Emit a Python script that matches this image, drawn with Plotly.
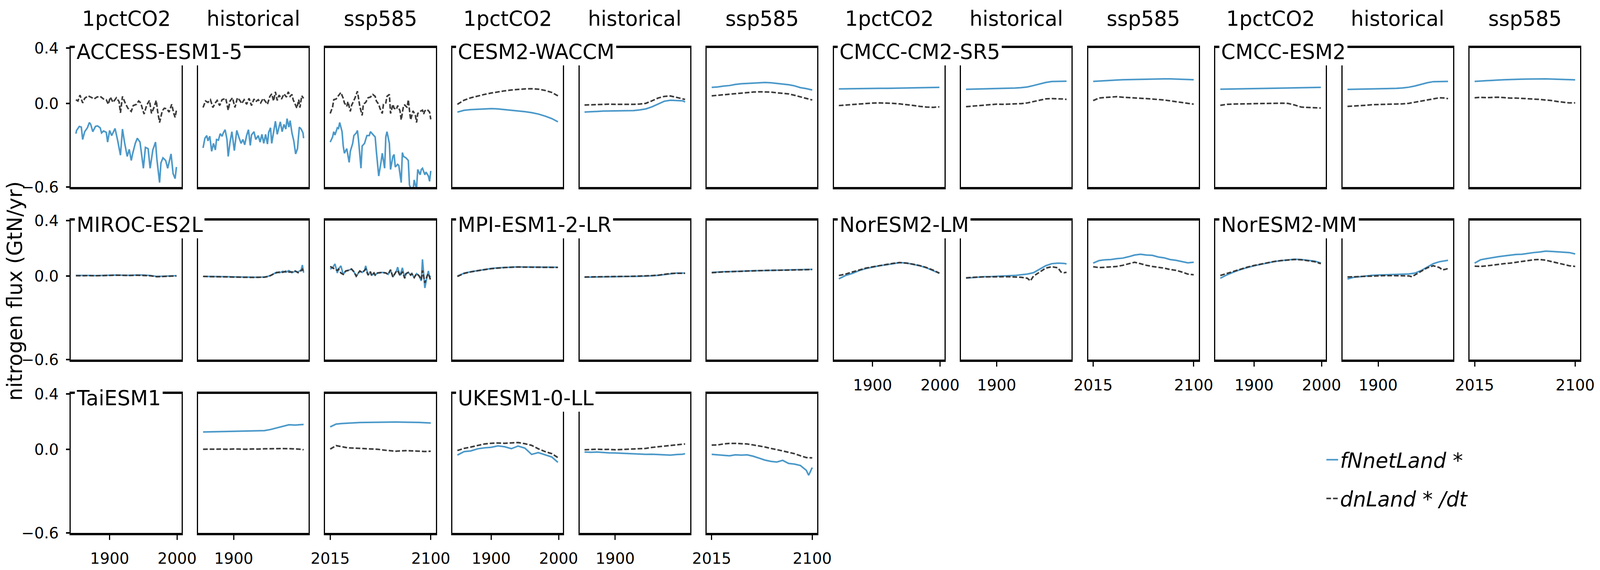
import plotly.graph_objects as go

# ---------------- data (GtN/yr) ----------------
MODELS = ["ACCESS-ESM1-5", "CESM2-WACCM", "CMCC-CM2-SR5", "CMCC-ESM2",
          "MIROC-ES2L", "MPI-ESM1-2-LR", "NorESM2-LM", "NorESM2-MM",
          "TaiESM1", "UKESM1-0-LL"]
EXPERIMENTS = ["1pctCO2", "historical", "ssp585"]
SERIES_NAMES = ["fNnetLand *", "dnLand * /dt"]

YR_1PCT = [1850, 1860, 1870, 1880, 1890, 1900, 1910, 1920, 1930, 1940, 1950, 1960, 1970, 1980, 1990, 1999]
YR_HIST = [1850, 1860, 1870, 1880, 1890, 1900, 1910, 1920, 1930, 1940, 1950, 1960, 1970, 1980, 1990, 2000, 2010, 2014]
YR_SSP = [2015, 2020, 2025, 2030, 2035, 2040, 2045, 2050, 2055, 2060, 2065, 2070, 2075, 2080, 2085, 2090, 2095, 2100]

# ACCESS-ESM1-5 (noisy, read at finer spacing)
ACCESS_1pct_f_yr = [1850, 1851, 1855, 1858, 1860, 1863, 1867, 1870, 1872, 1875, 1879, 1882, 1886, 1888, 1891, 1895, 1897, 1900, 1903, 1908, 1912, 1916, 1919, 1922, 1926, 1929, 1932, 1934, 1938, 1941, 1945, 1950, 1953, 1957, 1960, 1964, 1968, 1970, 1974, 1976, 1979, 1983, 1986, 1991, 1994, 1997, 1999]
ACCESS_1pct_f = [-0.216, -0.193, -0.164, -0.169, -0.258, -0.202, -0.174, -0.136, -0.150, -0.202, -0.164, -0.160, -0.174, -0.211, -0.197, -0.207, -0.277, -0.193, -0.230, -0.179, -0.268, -0.371, -0.183, -0.277, -0.380, -0.329, -0.409, -0.362, -0.286, -0.249, -0.277, -0.465, -0.315, -0.324, -0.465, -0.333, -0.277, -0.399, -0.568, -0.427, -0.390, -0.409, -0.465, -0.362, -0.503, -0.540, -0.456]
ACCESS_1pct_d_yr = [1850, 1853, 1856, 1860, 1863, 1868, 1874, 1877, 1881, 1886, 1891, 1895, 1898, 1901, 1905, 1910, 1914, 1916, 1919, 1923, 1927, 1932, 1935, 1940, 1943, 1946, 1951, 1955, 1959, 1962, 1966, 1969, 1971, 1974, 1978, 1981, 1985, 1988, 1992, 1995, 1997, 1999]
ACCESS_1pct_d = [0.028, 0.019, 0.061, 0.005, 0.038, 0.056, 0.042, 0.033, 0.047, 0.052, 0.033, 0.028, -0.005, 0.047, 0.009, 0.042, 0.014, -0.066, 0.052, 0.005, -0.033, -0.056, -0.014, -0.005, 0.019, 0.005, -0.075, -0.010, 0.023, -0.070, -0.024, 0.023, -0.052, -0.136, -0.052, -0.033, -0.038, -0.061, -0.005, -0.070, -0.099, -0.047]
ACCESS_hist_f_yr = [1850, 1853, 1856, 1858, 1861, 1864, 1867, 1870, 1872, 1875, 1878, 1881, 1883, 1886, 1889, 1891, 1894, 1897, 1901, 1905, 1909, 1912, 1915, 1918, 1921, 1924, 1927, 1929, 1933, 1936, 1940, 1943, 1946, 1949, 1952, 1955, 1957, 1960, 1962, 1965, 1968, 1971, 1973, 1976, 1979, 1982, 1985, 1987, 1990, 1992, 1995, 1998, 2001, 2004, 2007, 2010, 2013, 2014]
ACCESS_hist_f = [-0.319, -0.249, -0.230, -0.268, -0.235, -0.343, -0.286, -0.333, -0.258, -0.263, -0.216, -0.235, -0.211, -0.188, -0.258, -0.380, -0.277, -0.202, -0.338, -0.193, -0.249, -0.286, -0.258, -0.296, -0.230, -0.188, -0.301, -0.226, -0.202, -0.258, -0.230, -0.277, -0.221, -0.286, -0.221, -0.291, -0.207, -0.174, -0.286, -0.211, -0.127, -0.221, -0.183, -0.131, -0.202, -0.150, -0.183, -0.108, -0.169, -0.122, -0.211, -0.268, -0.362, -0.324, -0.169, -0.183, -0.211, -0.249]
ACCESS_hist_d_yr = [1850, 1854, 1858, 1862, 1866, 1870, 1873, 1877, 1881, 1887, 1891, 1894, 1898, 1902, 1906, 1910, 1913, 1917, 1921, 1925, 1929, 1933, 1936, 1940, 1944, 1948, 1952, 1955, 1959, 1962, 1965, 1968, 1971, 1974, 1978, 1982, 1986, 1989, 1992, 1995, 1997, 2000, 2003, 2006, 2008, 2011, 2014]
ACCESS_hist_d = [-0.028, 0.019, 0.009, 0.028, -0.028, 0.005, 0.023, -0.014, 0.028, 0.038, -0.047, 0.019, 0.042, -0.028, 0.042, 0.023, 0.000, 0.028, -0.005, 0.038, -0.014, 0.033, 0.014, 0.028, 0.005, 0.038, 0.014, -0.005, 0.052, 0.070, 0.019, 0.085, 0.023, 0.061, 0.033, 0.070, 0.047, 0.085, 0.052, 0.066, 0.028, -0.005, -0.033, 0.028, -0.028, 0.056, 0.038]
ACCESS_ssp_f_yr = [2015, 2017, 2018, 2019, 2021, 2022, 2023, 2025, 2026, 2027, 2029, 2031, 2032, 2034, 2035, 2037, 2038, 2039, 2041, 2042, 2044, 2045, 2046, 2048, 2049, 2051, 2053, 2054, 2056, 2058, 2059, 2061, 2062, 2063, 2065, 2066, 2068, 2069, 2070, 2072, 2073, 2075, 2076, 2077, 2079, 2081, 2082, 2083, 2085, 2086, 2087, 2088, 2089, 2091, 2092, 2093, 2095, 2096, 2098, 2099, 2100]
ACCESS_ssp_f = [-0.277, -0.240, -0.202, -0.226, -0.174, -0.179, -0.136, -0.202, -0.305, -0.357, -0.324, -0.423, -0.343, -0.286, -0.230, -0.211, -0.193, -0.268, -0.465, -0.305, -0.286, -0.258, -0.230, -0.230, -0.202, -0.221, -0.240, -0.343, -0.521, -0.418, -0.357, -0.465, -0.240, -0.202, -0.286, -0.474, -0.380, -0.366, -0.456, -0.437, -0.446, -0.568, -0.352, -0.380, -0.390, -0.409, -0.587, -0.606, -0.625, -0.549, -0.587, -0.606, -0.474, -0.512, -0.474, -0.465, -0.512, -0.493, -0.521, -0.559, -0.484]
ACCESS_ssp_d_yr = [2015, 2017, 2018, 2020, 2021, 2023, 2024, 2026, 2027, 2029, 2030, 2032, 2033, 2035, 2036, 2038, 2039, 2040, 2042, 2043, 2045, 2046, 2047, 2049, 2051, 2053, 2054, 2056, 2057, 2059, 2060, 2062, 2063, 2065, 2066, 2068, 2069, 2071, 2072, 2074, 2075, 2077, 2078, 2080, 2081, 2082, 2083, 2085, 2087, 2088, 2089, 2091, 2093, 2094, 2095, 2097, 2099, 2100]
ACCESS_ssp_d = [-0.071, -0.024, 0.028, 0.033, 0.047, 0.070, 0.080, 0.038, 0.005, -0.019, 0.014, -0.056, -0.014, 0.023, 0.042, 0.089, 0.033, -0.019, -0.085, -0.005, 0.009, 0.023, 0.042, 0.047, 0.066, 0.052, 0.019, -0.005, -0.033, -0.071, -0.005, 0.005, 0.052, 0.066, -0.071, -0.005, -0.033, -0.042, -0.014, -0.052, -0.117, -0.014, -0.010, -0.028, 0.028, -0.047, -0.117, -0.052, -0.085, -0.136, -0.071, -0.056, -0.047, -0.075, -0.052, -0.042, -0.061, -0.113]

# CESM2-WACCM
CESM_1pct_f = [-0.061, -0.048, -0.043, -0.040, -0.037, -0.036, -0.038, -0.043, -0.047, -0.052, -0.058, -0.065, -0.075, -0.090, -0.108, -0.131]
CESM_1pct_d = [-0.005, 0.025, 0.042, 0.055, 0.066, 0.076, 0.085, 0.092, 0.098, 0.103, 0.106, 0.107, 0.104, 0.095, 0.080, 0.056]
CESM_hist_f = [-0.061, -0.058, -0.056, -0.054, -0.053, -0.052, -0.052, -0.051, -0.050, -0.045, -0.038, -0.023, -0.003, 0.017, 0.024, 0.022, 0.020, 0.012]
CESM_hist_d = [-0.010, -0.008, -0.006, -0.005, -0.004, -0.005, -0.005, -0.006, -0.005, -0.003, 0.002, 0.020, 0.040, 0.052, 0.055, 0.045, 0.035, 0.030]
CESM_ssp_f = [0.117, 0.120, 0.126, 0.130, 0.138, 0.143, 0.145, 0.148, 0.150, 0.152, 0.150, 0.146, 0.142, 0.136, 0.128, 0.115, 0.108, 0.098]
CESM_ssp_d = [0.056, 0.060, 0.064, 0.068, 0.072, 0.076, 0.080, 0.083, 0.085, 0.085, 0.083, 0.078, 0.074, 0.070, 0.060, 0.048, 0.038, 0.026]

# CMCC-CM2-SR5
SR5_1pct_f = [0.106, 0.107, 0.107, 0.108, 0.108, 0.109, 0.110, 0.110, 0.111, 0.112, 0.113, 0.113, 0.114, 0.115, 0.116, 0.117]
SR5_1pct_d = [-0.014, -0.010, -0.006, -0.003, 0.002, 0.004, 0.005, 0.004, 0.002, -0.002, -0.007, -0.013, -0.020, -0.025, -0.027, -0.023]
SR5_hist_f = [0.103, 0.104, 0.104, 0.105, 0.106, 0.107, 0.108, 0.110, 0.112, 0.115, 0.120, 0.130, 0.140, 0.152, 0.159, 0.159, 0.161, 0.161]
SR5_hist_d = [-0.022, -0.018, -0.014, -0.010, -0.006, -0.004, -0.005, -0.004, -0.002, 0.000, 0.005, 0.014, 0.025, 0.034, 0.036, 0.035, 0.033, 0.030]
SR5_ssp_f = [0.160, 0.163, 0.166, 0.168, 0.170, 0.172, 0.173, 0.175, 0.176, 0.177, 0.178, 0.178, 0.178, 0.178, 0.177, 0.176, 0.174, 0.172]
SR5_ssp_d = [0.022, 0.040, 0.044, 0.048, 0.050, 0.046, 0.044, 0.042, 0.040, 0.036, 0.033, 0.030, 0.026, 0.020, 0.014, 0.008, 0.000, -0.004]

# CMCC-ESM2
CESM2_1pct_f = [0.104, 0.105, 0.106, 0.107, 0.108, 0.108, 0.109, 0.110, 0.111, 0.112, 0.112, 0.113, 0.114, 0.115, 0.116, 0.117]
CESM2_1pct_d = [-0.012, -0.005, -0.003, -0.002, -0.001, 0.000, 0.001, 0.002, 0.002, 0.003, 0.002, -0.010, -0.025, -0.028, -0.030, -0.032]
CESM2_hist_f = [0.102, 0.103, 0.104, 0.104, 0.105, 0.106, 0.107, 0.108, 0.110, 0.113, 0.118, 0.127, 0.138, 0.150, 0.158, 0.159, 0.160, 0.160]
CESM2_hist_d = [-0.020, -0.018, -0.016, -0.012, -0.008, -0.006, -0.005, -0.004, -0.003, -0.002, 0.002, 0.010, 0.018, 0.028, 0.036, 0.042, 0.040, 0.035]
CESM2_ssp_f = [0.160, 0.163, 0.166, 0.168, 0.170, 0.172, 0.174, 0.175, 0.176, 0.177, 0.178, 0.178, 0.178, 0.177, 0.176, 0.175, 0.173, 0.171]
CESM2_ssp_d = [0.042, 0.045, 0.043, 0.045, 0.046, 0.043, 0.040, 0.040, 0.038, 0.036, 0.032, 0.030, 0.026, 0.022, 0.015, 0.010, 0.005, 0.005]

# MIROC-ES2L
MIROC_1pct_f = [0.005, 0.006, 0.005, 0.004, 0.006, 0.006, 0.008, 0.007, 0.006, 0.008, 0.008, 0.005, -0.002, 0.000, 0.002, 0.003]
MIROC_1pct_d = [0.003, 0.004, 0.004, 0.003, 0.005, 0.005, 0.007, 0.006, 0.005, 0.007, 0.006, 0.003, -0.004, -0.002, 0.000, 0.002]
MIROC_hist_yr = [1850, 1860, 1870, 1880, 1890, 1900, 1910, 1920, 1930, 1940, 1950, 1955, 1960, 1965, 1970, 1975, 1980, 1985, 1990, 1995, 2000, 2005, 2010, 2012, 2014]
MIROC_hist_f = [-0.002, -0.002, -0.004, -0.003, -0.004, -0.005, -0.006, -0.008, -0.008, -0.008, -0.006, -0.002, 0.005, 0.018, 0.028, 0.025, 0.035, 0.028, 0.040, 0.025, 0.035, 0.030, 0.045, 0.080, 0.025]
MIROC_hist_d = [-0.002, -0.003, -0.004, -0.004, -0.005, -0.005, -0.007, -0.008, -0.009, -0.008, -0.007, -0.003, 0.004, 0.016, 0.025, 0.030, 0.028, 0.035, 0.030, 0.030, 0.038, 0.025, 0.040, 0.050, 0.030]
MIROC_ssp_yr = [2015, 2017, 2019, 2021, 2022, 2024, 2026, 2028, 2030, 2033, 2035, 2037, 2040, 2042, 2044, 2045, 2047, 2049, 2050, 2052, 2053, 2055, 2059, 2062, 2064, 2066, 2068, 2070, 2071, 2072, 2074, 2076, 2078, 2079, 2081, 2083, 2084, 2086, 2088, 2090, 2092, 2093, 2095, 2097, 2098, 2099, 2100]
MIROC_ssp_f = [0.051, 0.060, 0.088, 0.023, 0.051, 0.074, 0.013, 0.037, 0.041, 0.051, 0.032, 0.000, 0.037, 0.027, 0.041, 0.074, 0.008, 0.032, 0.004, 0.023, 0.008, 0.023, 0.027, 0.023, 0.013, 0.046, -0.006, 0.023, 0.037, 0.065, 0.004, 0.060, -0.015, 0.018, 0.027, 0.008, 0.018, -0.010, 0.018, 0.004, -0.034, 0.121, -0.085, 0.004, 0.037, -0.006, 0.000]
MIROC_ssp_d = [0.070, 0.060, 0.051, 0.041, 0.051, 0.023, 0.013, 0.037, 0.041, 0.051, 0.032, 0.000, 0.037, 0.027, 0.041, 0.051, 0.008, 0.032, 0.004, 0.023, 0.008, 0.023, 0.027, 0.023, 0.013, 0.046, -0.006, 0.023, 0.037, 0.041, 0.004, 0.032, -0.015, 0.018, 0.027, 0.008, 0.018, -0.010, 0.018, 0.004, -0.025, 0.041, -0.048, 0.004, 0.018, -0.006, -0.034]

# MPI-ESM1-2-LR
MPI_1pct_f = [0.000, 0.022, 0.032, 0.040, 0.048, 0.055, 0.060, 0.063, 0.065, 0.067, 0.066, 0.066, 0.066, 0.066, 0.065, 0.064]
MPI_1pct_d = [-0.002, 0.020, 0.031, 0.040, 0.047, 0.054, 0.059, 0.062, 0.064, 0.066, 0.065, 0.065, 0.065, 0.064, 0.064, 0.063]
MPI_hist_f = [-0.007, -0.006, -0.005, -0.004, -0.004, -0.003, -0.003, -0.002, -0.001, -0.001, 0.000, 0.003, 0.006, 0.012, 0.018, 0.022, 0.022, 0.022]
MPI_hist_d = [-0.006, -0.005, -0.005, -0.004, -0.003, -0.003, -0.002, -0.002, -0.001, 0.000, 0.001, 0.004, 0.007, 0.013, 0.019, 0.021, 0.023, 0.021]
MPI_ssp_f = [0.027, 0.030, 0.032, 0.033, 0.035, 0.036, 0.038, 0.039, 0.040, 0.041, 0.042, 0.043, 0.044, 0.045, 0.046, 0.047, 0.048, 0.049]
MPI_ssp_d = [0.025, 0.029, 0.031, 0.032, 0.034, 0.036, 0.037, 0.038, 0.040, 0.041, 0.041, 0.042, 0.043, 0.044, 0.045, 0.046, 0.047, 0.048]

# NorESM2-LM
NLM_1pct_f = [-0.019, 0.005, 0.020, 0.040, 0.055, 0.065, 0.075, 0.082, 0.090, 0.097, 0.095, 0.085, 0.075, 0.060, 0.040, 0.020]
NLM_1pct_d = [0.005, 0.015, 0.030, 0.045, 0.058, 0.067, 0.076, 0.084, 0.092, 0.098, 0.094, 0.086, 0.076, 0.062, 0.043, 0.022]
NLM_hist_f = [-0.014, -0.010, -0.006, -0.004, -0.003, -0.001, 0.001, 0.003, 0.005, 0.010, 0.015, 0.025, 0.050, 0.075, 0.090, 0.094, 0.092, 0.088]
NLM_hist_d_yr = [1850, 1860, 1870, 1880, 1890, 1900, 1910, 1920, 1930, 1940, 1950, 1955, 1960, 1970, 1980, 1990, 2000, 2005, 2010, 2014]
NLM_hist_d = [-0.012, -0.008, -0.006, -0.005, -0.004, -0.004, -0.004, -0.004, -0.006, -0.008, -0.015, -0.034, 0.000, 0.030, 0.058, 0.068, 0.060, 0.030, 0.025, 0.028]
NLM_ssp_f = [0.094, 0.112, 0.118, 0.120, 0.126, 0.130, 0.140, 0.152, 0.158, 0.152, 0.150, 0.138, 0.132, 0.120, 0.114, 0.105, 0.096, 0.100]
NLM_ssp_d = [0.068, 0.062, 0.064, 0.066, 0.070, 0.078, 0.088, 0.100, 0.090, 0.078, 0.070, 0.064, 0.058, 0.048, 0.042, 0.030, 0.015, 0.010]

# NorESM2-MM
NMM_1pct_f = [-0.015, 0.010, 0.030, 0.048, 0.062, 0.075, 0.085, 0.095, 0.105, 0.112, 0.118, 0.122, 0.120, 0.115, 0.108, 0.095]
NMM_1pct_d = [0.005, 0.020, 0.036, 0.052, 0.065, 0.077, 0.087, 0.097, 0.106, 0.112, 0.117, 0.120, 0.118, 0.112, 0.104, 0.090]
NMM_hist_f = [-0.020, -0.008, -0.004, 0.002, 0.006, 0.008, 0.010, 0.012, 0.012, 0.014, 0.016, 0.022, 0.040, 0.065, 0.090, 0.104, 0.110, 0.114]
NMM_hist_d_yr = [1850, 1860, 1870, 1880, 1890, 1900, 1910, 1920, 1930, 1940, 1950, 1955, 1960, 1970, 1980, 1990, 2000, 2005, 2010, 2014]
NMM_hist_d = [-0.006, -0.004, -0.002, 0.000, 0.002, 0.003, 0.004, 0.004, 0.003, 0.003, 0.002, -0.004, 0.010, 0.035, 0.060, 0.075, 0.062, 0.045, 0.050, 0.055]
NMM_ssp_f = [0.094, 0.118, 0.126, 0.134, 0.140, 0.146, 0.152, 0.156, 0.158, 0.165, 0.170, 0.174, 0.180, 0.178, 0.176, 0.172, 0.170, 0.160]
NMM_ssp_d = [0.072, 0.070, 0.074, 0.080, 0.084, 0.090, 0.094, 0.100, 0.106, 0.112, 0.118, 0.120, 0.115, 0.105, 0.095, 0.085, 0.075, 0.070]

# TaiESM1 (no 1pctCO2 data)
TAI_hist_f = [0.126, 0.127, 0.127, 0.128, 0.128, 0.129, 0.130, 0.131, 0.132, 0.134, 0.136, 0.144, 0.155, 0.168, 0.178, 0.176, 0.178, 0.180]
TAI_hist_d = [0.002, 0.003, 0.002, 0.003, 0.002, 0.004, 0.003, 0.002, 0.004, 0.003, 0.005, 0.006, 0.005, 0.007, 0.006, 0.004, 0.002, -0.002]
TAI_ssp_f = [0.163, 0.183, 0.187, 0.190, 0.192, 0.194, 0.195, 0.196, 0.197, 0.198, 0.198, 0.198, 0.197, 0.197, 0.196, 0.195, 0.193, 0.191]
TAI_ssp_d = [0.003, 0.028, 0.020, 0.012, 0.010, 0.008, 0.005, 0.003, 0.002, -0.004, -0.008, -0.012, -0.010, -0.008, -0.010, -0.012, -0.014, -0.012]

# UKESM1-0-LL
UK_1pct_f = [-0.040, -0.015, -0.010, 0.005, 0.012, 0.016, 0.026, 0.020, 0.006, 0.025, 0.010, -0.035, -0.022, -0.038, -0.054, -0.092]
UK_1pct_d = [-0.007, 0.008, 0.018, 0.030, 0.040, 0.045, 0.047, 0.045, 0.048, 0.050, 0.042, 0.030, 0.005, -0.015, -0.030, -0.058]
UK_hist_f = [-0.018, -0.020, -0.018, -0.022, -0.024, -0.025, -0.027, -0.030, -0.030, -0.032, -0.035, -0.034, -0.036, -0.038, -0.040, -0.036, -0.034, -0.030]
UK_hist_d = [-0.002, 0.000, 0.002, 0.000, 0.001, -0.002, 0.000, 0.002, 0.003, 0.005, 0.008, 0.015, 0.020, 0.025, 0.030, 0.035, 0.038, 0.040]
UK_ssp_f_yr = [2015, 2020, 2025, 2030, 2035, 2040, 2045, 2050, 2055, 2060, 2065, 2070, 2075, 2080, 2085, 2090, 2095, 2097, 2100]
UK_ssp_f = [-0.035, -0.038, -0.040, -0.045, -0.038, -0.040, -0.038, -0.048, -0.062, -0.076, -0.085, -0.090, -0.078, -0.100, -0.105, -0.115, -0.150, -0.185, -0.130]
UK_ssp_d = [0.032, 0.033, 0.040, 0.044, 0.044, 0.042, 0.040, 0.033, 0.026, 0.018, 0.008, 0.000, -0.010, -0.020, -0.030, -0.045, -0.058, -0.060]

Y_TICKS = [-0.6, 0.0, 0.4]
X_TICKS = {"1pctCO2": [1900, 2000], "historical": [1900], "ssp585": [2015, 2100]}

# (years_f, values_f, years_d, values_d) per model and experiment
PANELS = {
    "ACCESS-ESM1-5": [(ACCESS_1pct_f_yr, ACCESS_1pct_f, ACCESS_1pct_d_yr, ACCESS_1pct_d),
                      (ACCESS_hist_f_yr, ACCESS_hist_f, ACCESS_hist_d_yr, ACCESS_hist_d),
                      (ACCESS_ssp_f_yr, ACCESS_ssp_f, ACCESS_ssp_d_yr, ACCESS_ssp_d)],
    "CESM2-WACCM": [(YR_1PCT, CESM_1pct_f, YR_1PCT, CESM_1pct_d),
                    (YR_HIST, CESM_hist_f, YR_HIST, CESM_hist_d),
                    (YR_SSP, CESM_ssp_f, YR_SSP, CESM_ssp_d)],
    "CMCC-CM2-SR5": [(YR_1PCT, SR5_1pct_f, YR_1PCT, SR5_1pct_d),
                     (YR_HIST, SR5_hist_f, YR_HIST, SR5_hist_d),
                     (YR_SSP, SR5_ssp_f, YR_SSP, SR5_ssp_d)],
    "CMCC-ESM2": [(YR_1PCT, CESM2_1pct_f, YR_1PCT, CESM2_1pct_d),
                  (YR_HIST, CESM2_hist_f, YR_HIST, CESM2_hist_d),
                  (YR_SSP, CESM2_ssp_f, YR_SSP, CESM2_ssp_d)],
    "MIROC-ES2L": [(YR_1PCT, MIROC_1pct_f, YR_1PCT, MIROC_1pct_d),
                   (MIROC_hist_yr, MIROC_hist_f, MIROC_hist_yr, MIROC_hist_d),
                   (MIROC_ssp_yr, MIROC_ssp_f, MIROC_ssp_yr, MIROC_ssp_d)],
    "MPI-ESM1-2-LR": [(YR_1PCT, MPI_1pct_f, YR_1PCT, MPI_1pct_d),
                      (YR_HIST, MPI_hist_f, YR_HIST, MPI_hist_d),
                      (YR_SSP, MPI_ssp_f, YR_SSP, MPI_ssp_d)],
    "NorESM2-LM": [(YR_1PCT, NLM_1pct_f, YR_1PCT, NLM_1pct_d),
                   (YR_HIST, NLM_hist_f, NLM_hist_d_yr, NLM_hist_d),
                   (YR_SSP, NLM_ssp_f, YR_SSP, NLM_ssp_d)],
    "NorESM2-MM": [(YR_1PCT, NMM_1pct_f, YR_1PCT, NMM_1pct_d),
                   (YR_HIST, NMM_hist_f, NMM_hist_d_yr, NMM_hist_d),
                   (YR_SSP, NMM_ssp_f, YR_SSP, NMM_ssp_d)],
    "TaiESM1": [([], [], [], []),
                (YR_HIST, TAI_hist_f, YR_HIST, TAI_hist_d),
                (YR_SSP, TAI_ssp_f, YR_SSP, TAI_ssp_d)],
    "UKESM1-0-LL": [(YR_1PCT, UK_1pct_f, YR_1PCT, UK_1pct_d),
                    (YR_HIST, UK_hist_f, YR_HIST, UK_hist_d),
                    (UK_ssp_f_yr, UK_ssp_f, YR_SSP, UK_ssp_d)],
}

# ---------------- layout geometry ----------------
# Positions are given in reference-image pixels (5237 x 1460) and converted to
# paper fractions; the figure fills the browser viewport.  The viewport turns
# out narrower than 5237 px, so horizontal sizes use SX, vertical sizes SY and
# fonts a compromise ST.
REF_W, REF_H = 5237, 1460
SX, SY, ST = 0.782, 1.0, 0.82
COL_LEFT0, COL_PITCH, PANEL_W = 232, 416.2, 362
ROW_TOP = [123, 565, 1009]
PANEL_H = 356
X_RANGES = {"1pctCO2": [1842.55, 2006.45], "historical": [1841.8, 2022.2], "ssp585": [2010.75, 2104.25]}

BLUE = "#4a98c9"
DARK = "#3a3a3a"
FONT = "DejaVu Sans"


def fx(px):
    return px / REF_W


def fy(py):
    return 1 - py / REF_H


fig = go.Figure()
layout = dict(
    autosize=True,
    margin=dict(l=0, r=0, t=0, b=0, pad=0),
    paper_bgcolor="white", plot_bgcolor="white",
    font=dict(family=FONT, color="black", size=48 * ST),
    showlegend=True,
    legend=dict(x=fx(4335), y=fy(1137), xanchor="left", yanchor="top",
                bgcolor="rgba(0,0,0,0)", borderwidth=0,
                font=dict(family=FONT, size=64 * ST, style="italic", color="black"),
                tracegroupgap=28),
)
annotations = []

n = 0
for m, model in enumerate(MODELS):
    row, grp = divmod(m, 4)
    for e, exp in enumerate(EXPERIMENTS):
        n += 1
        col = grp * 3 + e
        left = COL_LEFT0 + COL_PITCH * col
        top = ROW_TOP[row]
        xs = "" if n == 1 else str(n)
        bottom_panel = (row == 2) or (row == 1 and grp >= 2)
        layout["xaxis" + xs] = dict(
            domain=[fx(left), fx(left + PANEL_W)], anchor="y" + xs,
            range=X_RANGES[exp], showgrid=False, zeroline=False,
            showline=True, mirror=True, linecolor="black", linewidth=6 * SY,
            ticks="outside" if bottom_panel else "", ticklen=12 * SY, tickwidth=4 * SX,
            tickcolor="black", tickvals=X_TICKS[exp], showticklabels=bottom_panel,
            tickfont=dict(family=FONT, size=48 * ST, color="black"),
            ticklabelstandoff=14, automargin=False,
        )
        first_col = (col == 0)
        layout["yaxis" + xs] = dict(
            domain=[fy(top + PANEL_H), fy(top)], anchor="x" + xs,
            range=[-0.6, 0.4], showgrid=False, zeroline=False,
            showline=True, mirror=True, linecolor="black", linewidth=3.5 * SX,
            ticks="outside" if first_col else "", ticklen=12 * SX, tickwidth=4 * SY,
            tickcolor="black", tickvals=Y_TICKS, tickformat=".1f", showticklabels=first_col,
            tickfont=dict(family=FONT, size=48 * ST, color="black"),
            ticklabelstandoff=int(round(14 * SX)), automargin=False,
        )
        yf, vf, yd, vd = PANELS[model][e]
        fig.add_trace(go.Scatter(
            x=yf, y=vf, xaxis="x" + xs, yaxis="y" + xs, mode="lines",
            line=dict(color=BLUE, width=4), name=SERIES_NAMES[0],
            legendgroup="f", showlegend=(n == 1), hoverinfo="skip"))
        fig.add_trace(go.Scatter(
            x=yd, y=vd, xaxis="x" + xs, yaxis="y" + xs, mode="lines",
            line=dict(color=DARK, width=4, dash="%.0fpx,%.0fpx" % (15 * SX, 6 * SX)),
            name=SERIES_NAMES[1], legendgroup="d", showlegend=(n == 1), hoverinfo="skip"))
        if row == 0:
            annotations.append(dict(
                text=exp, x=fx(left + PANEL_W / 2), y=fy(48), xref="paper", yref="paper",
                xanchor="center", yanchor="middle", showarrow=False,
                font=dict(family=FONT, size=64 * ST, color="black")))
    # model label with a white box over the frame
    left0 = COL_LEFT0 + COL_PITCH * grp * 3
    annotations.append(dict(
        text=model, x=fx(left0 + 12), y=fy(ROW_TOP[row] + 10), xref="paper", yref="paper",
        xanchor="left", yanchor="middle", showarrow=False, bgcolor="white", borderpad=4,
        font=dict(family=FONT, size=64 * ST, color="black")))

annotations.append(dict(
    text="nitrogen flux (GtN/yr)", x=fx(48), y=fy(746), xref="paper", yref="paper",
    xanchor="center", yanchor="middle", textangle=-90, showarrow=False,
    font=dict(family=FONT, size=64 * ST, color="black")))

layout["annotations"] = annotations
fig.update_layout(**layout)
fig.write_html(
    "out.html",
    default_width="100vw", default_height="100vh",
    config={"displayModeBar": False},
    post_script=("document.documentElement.style.overflow='hidden';"
                 "document.body.style.overflow='hidden';"
                 "document.body.style.margin='0px';"),
)
